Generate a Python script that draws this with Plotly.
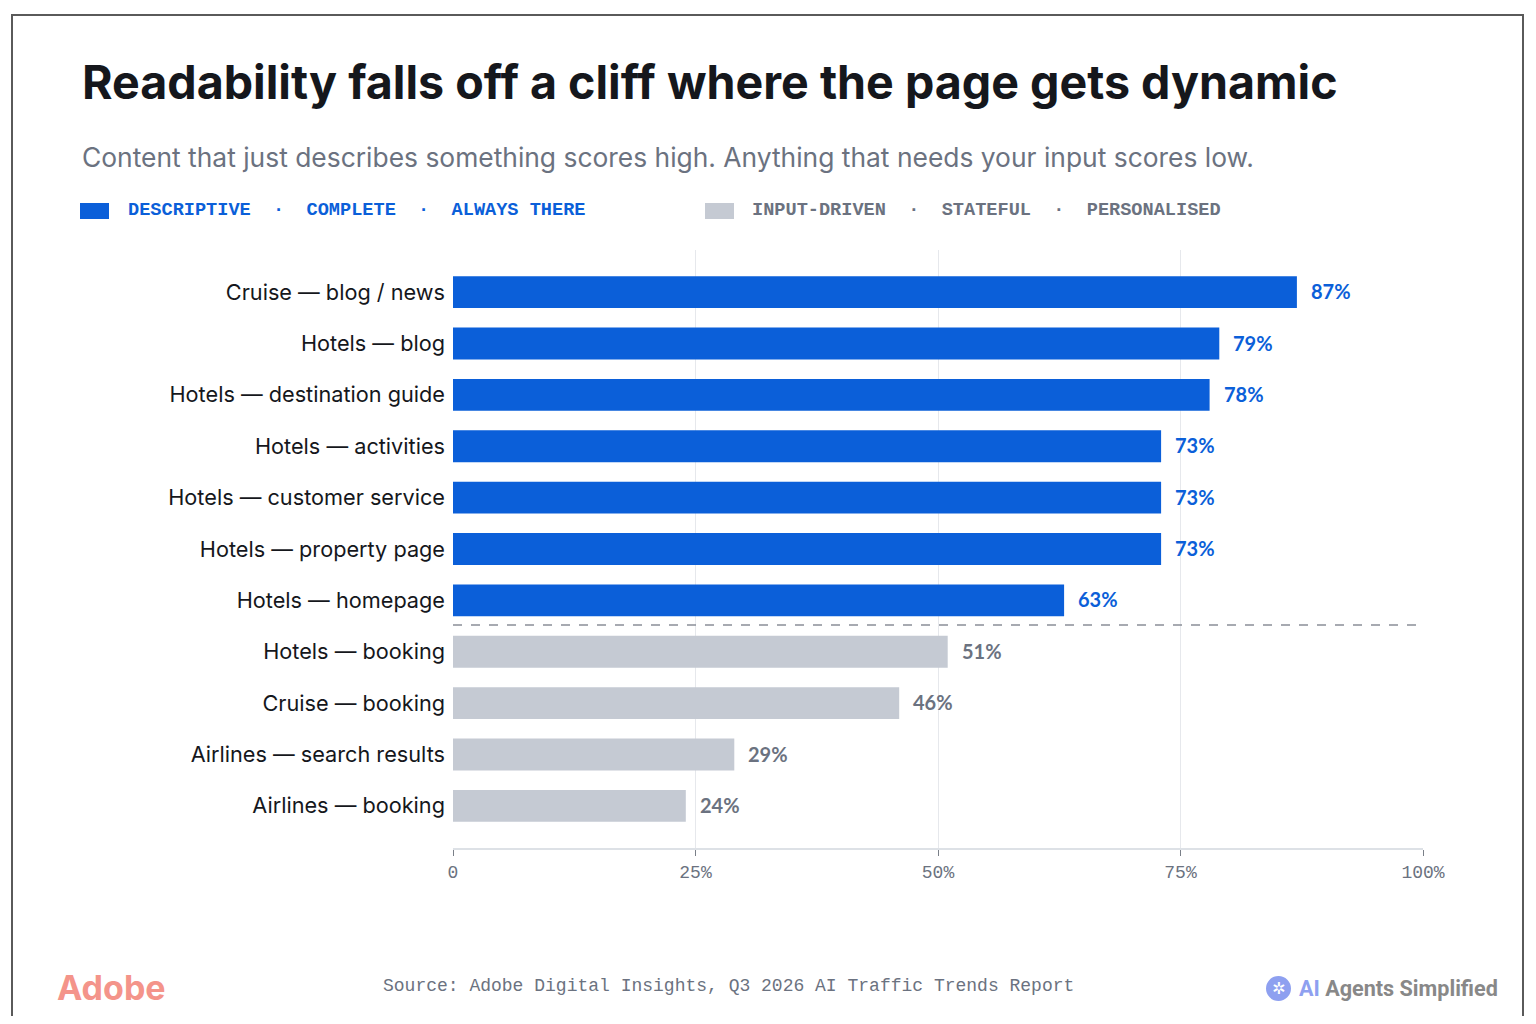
import plotly.graph_objects as go

# Bar data (top to bottom)
categories = [
    "Cruise — blog / news",
    "Hotels — blog",
    "Hotels — destination guide",
    "Hotels — activities",
    "Hotels — customer service",
    "Hotels — property page",
    "Hotels — homepage",
    "Hotels — booking",
    "Cruise — booking",
    "Airlines — search results",
    "Airlines — booking",
]
scores = [87, 79, 78, 73, 73, 73, 63, 51, 46, 29, 24]
groups = ["descriptive"] * 7 + ["input"] * 4

tick_vals = [0, 25, 50, 75, 100]
tick_text = ["0", "25%", "50%", "75%", "100%"]

BLUE = "#0b5fd9"
GREY_BAR = "#c5cad3"
GREY_TEXT = "#6b7280"
DARK = "#15171c"

bar_colors = [BLUE if g == "descriptive" else GREY_BAR for g in groups]
label_colors = [BLUE if g == "descriptive" else GREY_TEXT for g in groups]

fig = go.Figure()
fig.add_trace(go.Bar(
    x=scores,
    y=categories,
    orientation="h",
    marker=dict(color=bar_colors, line=dict(width=0)),
    width=0.62,
    hoverinfo="skip",
))

# value labels just right of each bar
for cat, val, col in zip(categories, scores, label_colors):
    fig.add_annotation(x=val, y=cat, xref="x", yref="y", text=f"<b>{val}%</b>",
                       xanchor="left", yanchor="middle", xshift=12, yshift=1, showarrow=False,
                       font=dict(family="Lato, Inter, sans-serif", size=20, color=col))

# split between descriptive and input-driven pages
fig.add_shape(type="line", xref="x", yref="y", x0=0, x1=100, y0=6.48, y1=6.48,
              line=dict(color="#8a8f98", width=1.5, dash="dash"))

# page layout (page body has an 8px margin, so figure is 1520x1008)
W, H = 1520, 1008
L, R, T, B = 445, 105, 242, 168
pw, ph = W - L - R, H - T - B


# helpers: reference-pixel positions -> paper coords
def px(x):
    return (x - 453) / pw


def py(y):
    return (848 - y) / ph


fig.add_shape(type="rect", xref="paper", yref="paper",
              x0=px(12), x1=px(1523), y0=py(15), y1=py(1017),
              line=dict(color="#5a5a5a", width=2), layer="below")

annotations = [
    dict(x=px(80), y=py(82), text="<b>Readability falls off a cliff where the page gets dynamic</b>",
         font=dict(family="Inter, Noto Sans, sans-serif", size=46.6, color=DARK)),
    dict(x=px(80), y=py(157), text="Content that just describes something scores high. Anything that needs your input scores low.",
         font=dict(family="Inter, Noto Sans, sans-serif", size=26.4, color=GREY_TEXT)),
    dict(x=px(126), y=py(211),
         text="<b>DESCRIPTIVE  ·  COMPLETE  ·  ALWAYS THERE</b>",
         font=dict(family="Liberation Mono, DejaVu Sans Mono, monospace", size=18.6, color=BLUE)),
    dict(x=px(750), y=py(211),
         text="<b>INPUT-DRIVEN  ·  STATEFUL  ·  PERSONALISED</b>",
         font=dict(family="Liberation Mono, DejaVu Sans Mono, monospace", size=18.6, color=GREY_TEXT)),
    dict(x=px(55), y=py(987), text="<b>Adobe</b>",
         font=dict(family="Inter, Noto Sans, sans-serif", size=34, color="#f4948a")),
    dict(x=px(728), y=py(986), xanchor="center",
         text="Source: Adobe Digital Insights, Q3 2026 AI Traffic Trends Report",
         font=dict(family="Liberation Mono, DejaVu Sans Mono, monospace", size=18, color=GREY_TEXT)),
    dict(x=px(1297), y=py(988),
         text="<b><span style='color:#8ea0f0'>AI</span> Agents Simplified</b>",
         font=dict(family="Roboto, sans-serif", size=21.6, color="#888888")),
    dict(x=px(1278.5), y=py(988), xanchor="center", text="✲",
         font=dict(family="DejaVu Sans", size=16, color="white")),
]
for a in annotations:
    a.setdefault("xanchor", "left")
    a.update(xref="paper", yref="paper", yanchor="middle", showarrow=False)
    fig.add_annotation(**a)

# legend swatches and logo circle
fig.add_shape(type="rect", xref="paper", yref="paper", x0=px(80), x1=px(109), y0=py(203), y1=py(219),
              fillcolor=BLUE, line=dict(width=0))
fig.add_shape(type="rect", xref="paper", yref="paper", x0=px(705), x1=px(734), y0=py(203), y1=py(219),
              fillcolor=GREY_BAR, line=dict(width=0))
fig.add_shape(type="circle", xref="paper", yref="paper", x0=px(1266), x1=px(1291), y0=py(976), y1=py(1001),
              fillcolor="#8ea0f0", line=dict(width=0))

fig.update_xaxes(
    range=[0, 100],
    tickvals=tick_vals,
    ticktext=tick_text,
    showgrid=True,
    gridcolor="#e6e8ec",
    gridwidth=1,
    zeroline=False,
    showline=True,
    linecolor="#dde1e6",
    linewidth=2,
    ticks="outside",
    ticklen=6,
    tickcolor="#7a7f88",
    ticklabelstandoff=0,
    tickfont=dict(family="Liberation Mono, DejaVu Sans Mono, monospace", size=18, color=GREY_TEXT),
    fixedrange=True,
)
fig.update_yaxes(
    categoryorder="array",
    categoryarray=categories,
    range=[10.82, -0.82],
    showgrid=False,
    zeroline=False,
    ticks="",
    ticklabelstandoff=7,
    tickfont=dict(family="Inter, Noto Sans, sans-serif", size=21.7, color=DARK),
    fixedrange=True,
)

fig.update_layout(
    width=W,
    height=H,
    margin=dict(l=L, r=R, t=T, b=B),
    paper_bgcolor="white",
    plot_bgcolor="white",
    showlegend=False,
)

fig.write_html("out.html")
